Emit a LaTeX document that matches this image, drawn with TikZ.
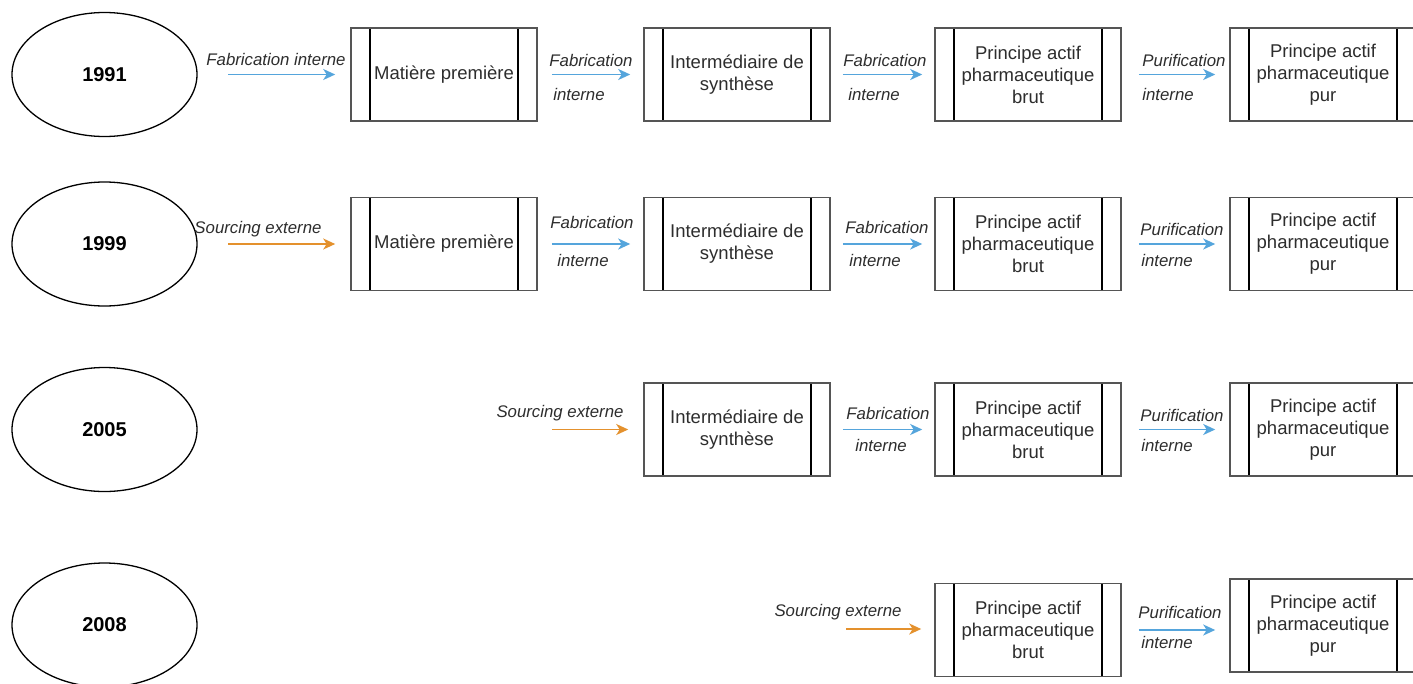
\documentclass[tikz,border=0pt]{standalone}
\usepackage{fontspec}
\setmainfont{Liberation Sans}
\usetikzlibrary{arrows.meta,shapes.geometric}
\definecolor{flowblue}{RGB}{85,165,220}
\definecolor{flowor}{RGB}{228,145,45}
\definecolor{boxline}{RGB}{85,85,85}
\definecolor{txt}{RGB}{45,45,45}
\tikzset{
  year/.style={ellipse, draw=black, line width=1.3pt, minimum width=185pt, minimum height=124pt, inner sep=0pt,
    font=\fontsize{20}{24}\selectfont\bfseries},
  procbox/.style={rectangle, draw=boxline, line width=1.6pt, minimum width=186pt, minimum height=93pt, inner sep=0pt,
    align=center, text=txt, font=\fontsize{18.5}{22}\selectfont,
    path picture={\draw[black, line width=1.2pt]
      ([xshift=19pt]path picture bounding box.north west) -- ([xshift=19pt]path picture bounding box.south west)
      ([xshift=-19pt]path picture bounding box.north east) -- ([xshift=-19pt]path picture bounding box.south east);}},
  flowlabel/.style={inner sep=0pt, text=txt, font=\fontsize{16.8}{20}\selectfont\itshape},
  internal/.style={draw=flowblue, line width=1.9pt, -{Stealth[length=12pt,width=11pt,inset=3.5pt]}},
  external/.style={draw=flowor, line width=1.9pt, -{Stealth[length=12pt,width=11pt,inset=3.5pt]}},
}
\begin{document}
\begin{tikzpicture}[x=1pt,y=-1pt]
\fill[white] (0,0) rectangle (1413,683);
\useasboundingbox (0,0) rectangle (1413,683);

% ---------- Row 1991 ----------
\node[year] (y1) at (104.5,74.5) {1991};
\node[procbox] (r1a) at (444,74.5) {Matière première};
\node[procbox] (r1b) at (737,74.5) {Intermédiaire de\\synthèse};
\node[procbox] (r1c) at (1028,74.5) {Principe actif\\pharmaceutique\\brut};
\node[procbox] (r1d) at (1323,74.5) {Principe actif\\pharmaceutique\\pur};
\draw[internal, shorten <=30.5pt, shorten >=15pt] (y1.east) -- (y1.east -| r1a.west);
\draw[internal, shorten <=14pt, shorten >=13pt] (r1a.east) -- (r1a.east -| r1b.west);
\draw[internal, shorten <=12pt, shorten >=12pt] (r1b.east) -- (r1b.east -| r1c.west);
\draw[internal, shorten <=17pt, shorten >=14pt] (r1c.east) -- (r1c.east -| r1d.west);
\node[flowlabel] (l1a) at (276,59) {Fabrication interne};
\node[flowlabel] (l1b) at (591,60) {Fabrication};
\node[flowlabel] (l1c) at (579,94) {interne};
\node[flowlabel] (l1d) at (885,60) {Fabrication};
\node[flowlabel] (l1e) at (874,94) {interne};
\node[flowlabel] (l1f) at (1184,60) {Purification};
\node[flowlabel] (l1g) at (1168,94) {interne};

% ---------- Row 1999 ----------
\node[year] (y2) at (104.5,244) {1999};
\node[procbox] (r2a) at (444,244) {Matière première};
\node[procbox] (r2b) at (737,244) {Intermédiaire de\\synthèse};
\node[procbox] (r2c) at (1028,244) {Principe actif\\pharmaceutique\\brut};
\node[procbox] (r2d) at (1323,244) {Principe actif\\pharmaceutique\\pur};
\draw[external, shorten <=30.5pt, shorten >=15pt] (y2.east) -- (y2.east -| r2a.west);
\draw[internal, shorten <=14pt, shorten >=13pt] (r2a.east) -- (r2a.east -| r2b.west);
\draw[internal, shorten <=12pt, shorten >=12pt] (r2b.east) -- (r2b.east -| r2c.west);
\draw[internal, shorten <=17pt, shorten >=14pt] (r2c.east) -- (r2c.east -| r2d.west);
\node[flowlabel] (l2a) at (258,229) {Sourcing externe};
\node[flowlabel] (l2b) at (592,222) {Fabrication};
\node[flowlabel] (l2c) at (583,260) {interne};
\node[flowlabel] (l2d) at (887,227) {Fabrication};
\node[flowlabel] (l2e) at (875,260) {interne};
\node[flowlabel] (l2f) at (1182,229) {Purification};
\node[flowlabel] (l2g) at (1167,260) {interne};

% ---------- Row 2005 ----------
\node[year] (y3) at (104.5,429.5) {2005};
\coordinate (s3) at (552,429.5);
\node[procbox] (r3b) at (737,429.5) {Intermédiaire de\\synthèse};
\node[procbox] (r3c) at (1028,429.5) {Principe actif\\pharmaceutique\\brut};
\node[procbox] (r3d) at (1323,429.5) {Principe actif\\pharmaceutique\\pur};
\draw[external, shorten >=15pt] (s3) -- (s3 -| r3b.west);
\draw[internal, shorten <=12pt, shorten >=12pt] (r3b.east) -- (r3b.east -| r3c.west);
\draw[internal, shorten <=17pt, shorten >=14pt] (r3c.east) -- (r3c.east -| r3d.west);
\node[flowlabel] (l3a) at (560,413) {Sourcing externe};
\node[flowlabel] (l3b) at (888,413) {Fabrication};
\node[flowlabel] (l3c) at (881,445) {interne};
\node[flowlabel] (l3d) at (1182,415) {Purification};
\node[flowlabel] (l3e) at (1167,445) {interne};

% ---------- Row 2008 ----------
\node[year] (y4) at (104.5,625) {2008};
\coordinate (s4) at (846,629);
\node[procbox] (r4c) at (1028,630) {Principe actif\\pharmaceutique\\brut};
\node[procbox] (r4d) at (1323,625.5) {Principe actif\\pharmaceutique\\pur};
\draw[external, shorten >=13pt] (s4) -- (s4 -| r4c.west);
\draw[internal, shorten <=17pt, shorten >=14pt] (r4c.east) -- (r4c.east -| r4d.west);
\node[flowlabel] (l4a) at (838,612) {Sourcing externe};
\node[flowlabel] (l4b) at (1180,612) {Purification};
\node[flowlabel] (l4c) at (1167,642) {interne};
\end{tikzpicture}
\end{document}
